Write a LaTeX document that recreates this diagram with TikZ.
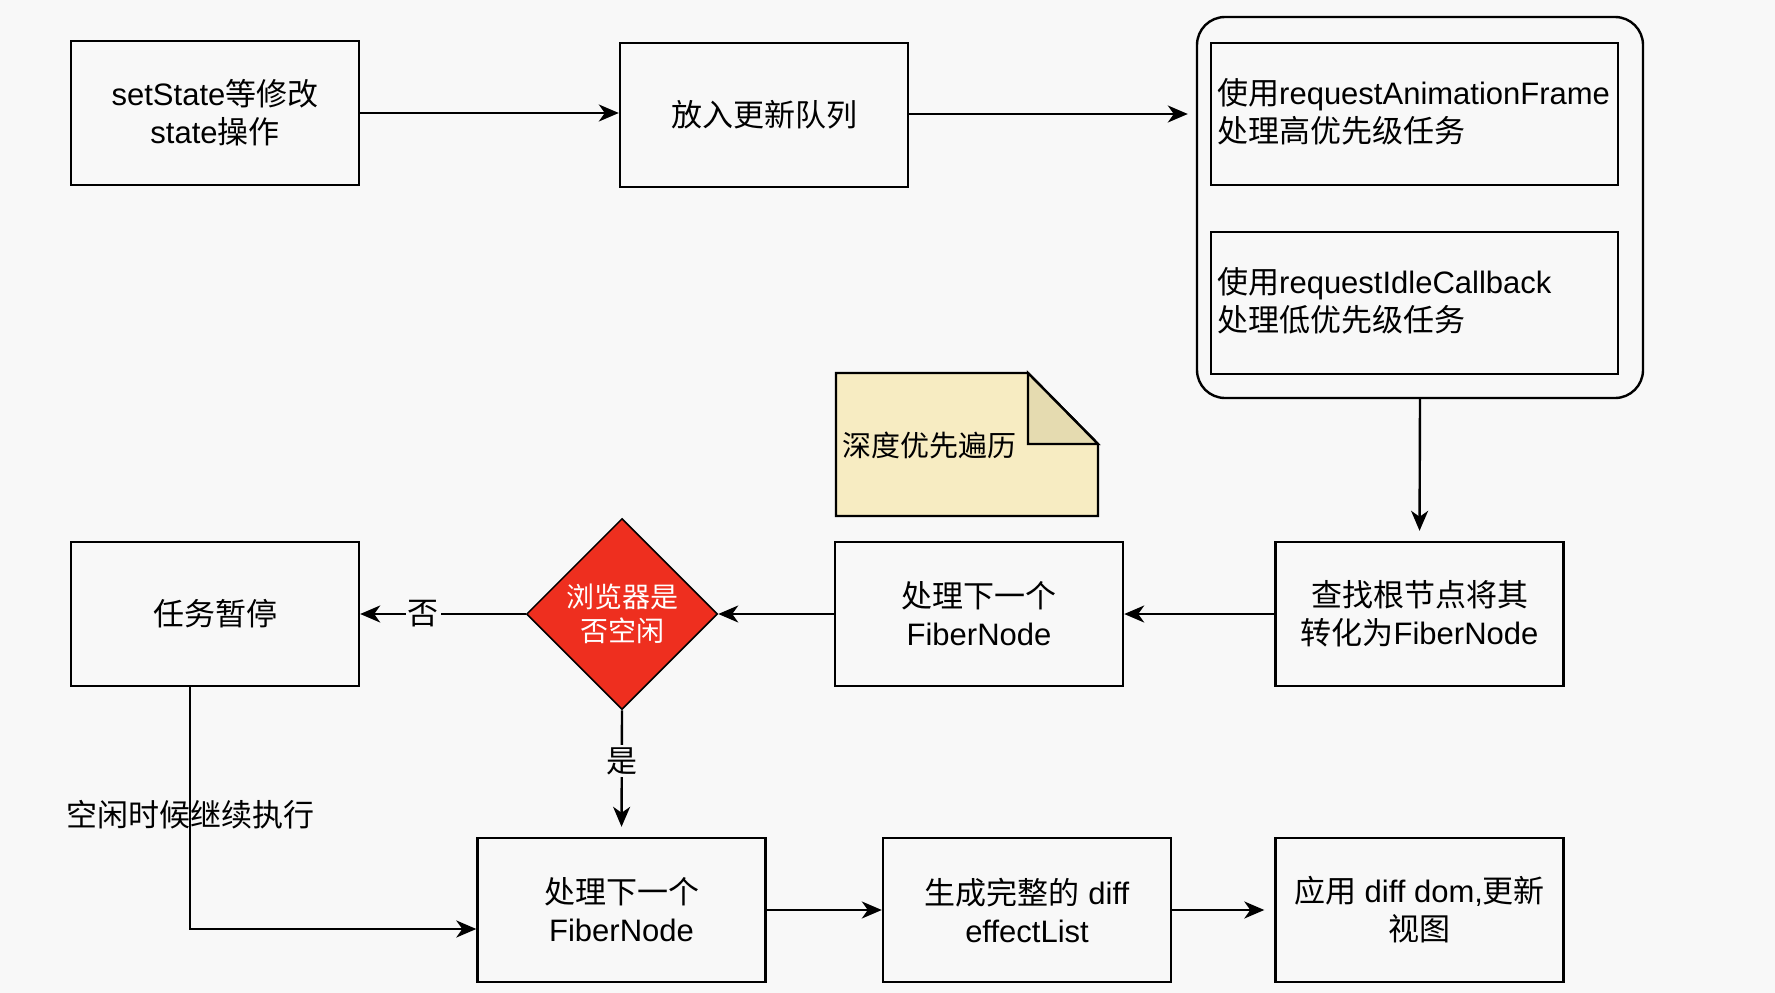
\documentclass[tikz,border=0pt]{standalone}
\usepackage{fontspec}
\setmainfont{Liberation Sans}
\newfontfamily\cjk{Noto Sans CJK SC}
\usetikzlibrary{arrows.meta,shapes.geometric}
\definecolor{bgc}{HTML}{F8F8F8}
\definecolor{notef}{HTML}{F7ECC2}
\definecolor{foldf}{HTML}{E5DBB0}
\definecolor{redf}{HTML}{EE2F1F}
\tikzset{
  boxs/.style={draw=black, line width=2.4pt, fill=bgc, minimum width=288pt, minimum height=144pt, inner sep=0pt, align=center, font=\fontsize{31}{38}\selectfont},
  conn/.style={line width=2.4pt, -{Stealth[length=20pt,width=17pt,inset=6pt]}},
  lbl/.style={fill=bgc, inner sep=2pt, font=\fontsize{31}{38}\selectfont},
}
\begin{document}
\begin{tikzpicture}[x=1pt,y=-1pt]
\useasboundingbox (0,0) rectangle (1775,993);
\fill[bgc] (0,0) rectangle (1775,993);

% top row
\node[boxs] (set) at (215,113) {setState{\cjk 等修改}\\state{\cjk 操作}};
\node[boxs] (queue) at (764,115) {\cjk 放入更新队列};
\node[draw=black, line width=2.4pt, rounded corners=28pt, minimum width=446pt, minimum height=381pt, inner sep=0pt] (cont) at (1420,207.5) {};
\node[draw=black, line width=2.4pt, minimum width=407pt, minimum height=142pt, inner sep=0pt] (hi) at (1414.5,114) {};
\node[anchor=west, align=left, inner sep=0pt, font=\fontsize{31}{38}\selectfont] (hit) at (1217,112) {{\cjk 使用}requestAnimationFrame\\{\cjk 处理高优先级任务}};
\node[draw=black, line width=2.4pt, minimum width=407pt, minimum height=142pt, inner sep=0pt] (lo) at (1414.5,303) {};
\node[anchor=west, align=left, inner sep=0pt, font=\fontsize{31}{38}\selectfont] (lot) at (1217,301) {{\cjk 使用}requestIdleCallback\\{\cjk 处理低优先级任务}};

% note
\filldraw[fill=notef, draw=black, line width=2.4pt] (836,373) -- (1028,373) -- (1098,444) -- (1098,516) -- (836,516) -- cycle;
\filldraw[fill=foldf, draw=black, line width=2.4pt, line join=miter] (1028,373) -- (1028,444) -- (1098,444) -- cycle;
\node[anchor=west, inner sep=0pt, font=\fontsize{29}{34}\selectfont] (note) at (842,445) {\cjk 深度优先遍历};

% middle row
\node[boxs] (root) at (1419.5,614) {{\cjk 查找根节点将其}\\{\cjk 转化为}FiberNode};
\node[boxs] (next1) at (979,614) {{\cjk 处理下一个}\\FiberNode};
\node[diamond, draw=black, line width=1.5pt, fill=redf, minimum width=191pt, minimum height=191pt, aspect=1, inner sep=0pt, align=center, text=white, font=\cjk\fontsize{28}{34}\selectfont] (idle) at (622,614) {浏览器是\\否空闲};
\node[boxs] (pause) at (215,614) {\cjk 任务暂停};

% bottom row
\node[boxs] (next2) at (621.5,910) {{\cjk 处理下一个}\\FiberNode};
\node[boxs] (diff) at (1027,910) {{\cjk 生成完整的} diff\\effectList};
\node[boxs] (apply) at (1419.5,910) {{\cjk 应用} diff dom,{\cjk 更新}\\{\cjk 视图}};

% connectors
\draw[conn] (set.east) -- (set.east -| queue.west);
\draw[conn, shorten >=8pt] (queue.east |- 0,114) -- (cont.west |- 0,114);
\draw[conn, shorten >=10pt] (cont.south) -- (root.north);
\draw[conn] (root.west) -- (next1.east);
\draw[conn] (next1.west) -- (idle.east);
\draw[conn] (idle.west) -- node[lbl, pos=0.62] (no) {\cjk 否} (pause.east);
\draw[conn, shorten >=10pt] (idle.south) -- node[lbl, pos=0.4] (yes) {\cjk 是} (next2.north);
\coordinate (c1) at (190,929);
\draw[conn] (pause.south -| c1) -- (c1) -- (next2.west |- c1);
\node[font=\fontsize{31}{38}\selectfont\cjk, inner sep=0pt] (resume) at (190,815) {空闲时候继续执行};
\draw[conn] (next2.east) -- (diff.west);
\draw[conn, shorten >=10pt] (diff.east) -- (apply.west);
\end{tikzpicture}
\end{document}
